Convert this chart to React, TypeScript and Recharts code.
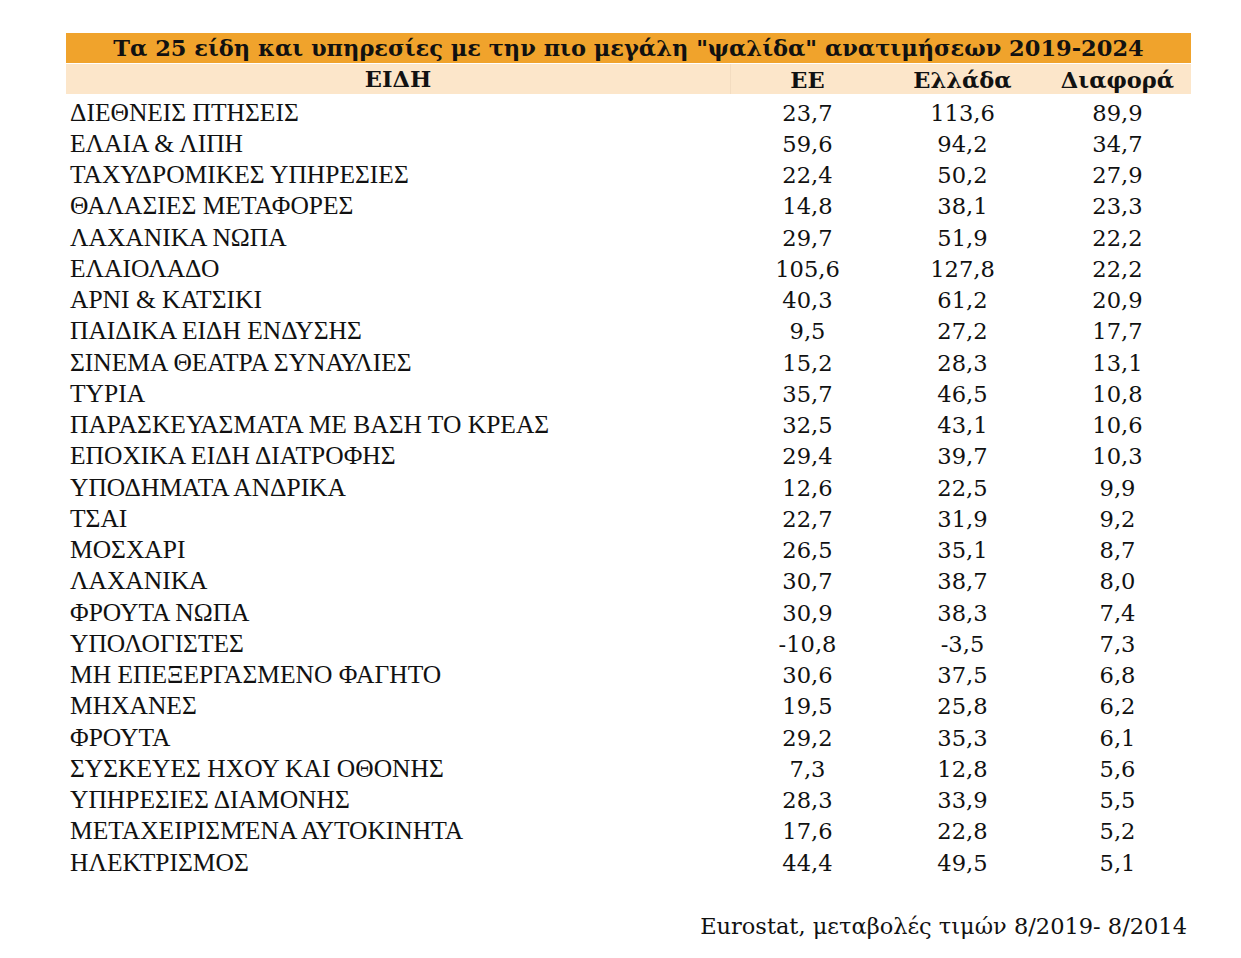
import { ScatterChart, Scatter, XAxis, YAxis } from 'recharts'

const TITLE = 'Τα 25 είδη και υπηρεσίες με την πιο μεγάλη "ψαλίδα" ανατιμήσεων 2019-2024'
const ITEM_HEADER = 'ΕΙΔΗ'
const SOURCE = 'Eurostat, μεταβολές τιμών 8/2019- 8/2014'

const columns = ['ΕΕ', 'Ελλάδα', 'Διαφορά']

const items = [
  'ΔΙΕΘΝΕΙΣ ΠΤΗΣΕΙΣ',
  'ΕΛΑΙΑ & ΛΙΠΗ',
  'ΤΑΧΥΔΡΟΜΙΚΕΣ ΥΠΗΡΕΣΙΕΣ',
  'ΘΑΛΑΣΙΕΣ ΜΕΤΑΦΟΡΕΣ',
  'ΛΑΧΑΝΙΚΑ ΝΩΠΑ',
  'ΕΛΑΙΟΛΑΔΟ',
  'ΑΡΝΙ & ΚΑΤΣΙΚΙ',
  'ΠΑΙΔΙΚΑ ΕΙΔΗ ΕΝΔΥΣΗΣ',
  'ΣΙΝΕΜΑ ΘΕΑΤΡΑ ΣΥΝΑΥΛΙΕΣ',
  'ΤΥΡΙΑ',
  'ΠΑΡΑΣΚΕΥΑΣΜΑΤΑ ΜΕ ΒΑΣΗ ΤΟ ΚΡΕΑΣ',
  'ΕΠΟΧΙΚΑ ΕΙΔΗ ΔΙΑΤΡΟΦΗΣ',
  'ΥΠΟΔΗΜΑΤΑ ΑΝΔΡΙΚΑ',
  'ΤΣΑΙ',
  'ΜΟΣΧΑΡΙ',
  'ΛΑΧΑΝΙΚΑ',
  'ΦΡΟΥΤΑ ΝΩΠΑ',
  'ΥΠΟΛΟΓΙΣΤΕΣ',
  'ΜΗ ΕΠΕΞΕΡΓΑΣΜΕΝΟ ΦΑΓΗΤΟ',
  'ΜΗΧΑΝΕΣ',
  'ΦΡΟΥΤΑ',
  'ΣΥΣΚΕΥΕΣ ΗΧΟΥ ΚΑΙ ΟΘΟΝΗΣ',
  'ΥΠΗΡΕΣΙΕΣ ΔΙΑΜΟΝΗΣ',
  'ΜΕΤΑΧΕΙΡΙΣΜΈΝΑ ΑΥΤΟΚΙΝΗΤΑ',
  'ΗΛΕΚΤΡΙΣΜΟΣ',
]

const eu = [23.7, 59.6, 22.4, 14.8, 29.7, 105.6, 40.3, 9.5, 15.2, 35.7, 32.5, 29.4, 12.6, 22.7, 26.5, 30.7, 30.9, -10.8, 30.6, 19.5, 29.2, 7.3, 28.3, 17.6, 44.4]
const greece = [113.6, 94.2, 50.2, 38.1, 51.9, 127.8, 61.2, 27.2, 28.3, 46.5, 43.1, 39.7, 22.5, 31.9, 35.1, 38.7, 38.3, -3.5, 37.5, 25.8, 35.3, 12.8, 33.9, 22.8, 49.5]
const diff = [89.9, 34.7, 27.9, 23.3, 22.2, 22.2, 20.9, 17.7, 13.1, 10.8, 10.6, 10.3, 9.9, 9.2, 8.7, 8.0, 7.4, 7.3, 6.8, 6.2, 6.1, 5.6, 5.5, 5.2, 5.1]

const cells = items.flatMap((item, i) => [
  { col: columns[0], item, value: eu[i] },
  { col: columns[1], item, value: greece[i] },
  { col: columns[2], item, value: diff[i] },
])

const fmt = (v: number) => v.toFixed(1).replace('.', ',')

const SERIF = '"DejaVu Serif", serif'
const NAME_FONT = '"Liberation Serif", "Times New Roman", serif'

function HeaderTick({ x, y, payload }: any) {
  return (
    <text x={x} y={y - 9} textAnchor="middle" fontFamily={SERIF} fontWeight="bold" fontSize={22.5} fill="#111">
      {payload.value}
    </text>
  )
}

function NameTick({ y, payload }: any) {
  return (
    <text x={70} y={y + 8.5} textAnchor="start" fontFamily={NAME_FONT} fontSize={25.5} fill="#111">
      {payload.value}
    </text>
  )
}

function ValueCell({ cx, cy, payload }: any) {
  return (
    <text x={cx} y={cy + 8.5} textAnchor="middle" fontFamily={SERIF} fontSize={22.6} fill="#111">
      {fmt(payload.value)}
    </text>
  )
}

export default function App() {
  return (
    <div style={{ position: 'absolute', left: 0, top: 0, width: 1241, height: 958, background: '#fff' }}>
      <div style={{ position: 'absolute', left: 66, top: 33, width: 1125, height: 30, background: '#F0A32C', fontFamily: SERIF, fontWeight: 'bold', fontSize: 22.5, lineHeight: '30px', textAlign: 'center', color: '#111', whiteSpace: 'nowrap' }}>
        {TITLE}
      </div>
      <div style={{ position: 'absolute', left: 66, top: 64, width: 1125, height: 30, background: '#FCE6CA' }} />
      <div style={{ position: 'absolute', left: 730, top: 64, width: 1, height: 30, background: '#F3DCC0' }} />
      <div style={{ position: 'absolute', left: 66, top: 64, width: 664, height: 30, fontFamily: SERIF, fontWeight: 'bold', fontSize: 22.5, lineHeight: '30px', textAlign: 'center', color: '#111' }}>
        {ITEM_HEADER}
      </div>
      <div style={{ position: 'absolute', right: 54, top: 911, fontFamily: SERIF, fontSize: 22.5, lineHeight: '30px', color: '#111', whiteSpace: 'nowrap' }}>
        {SOURCE}
      </div>
      <div style={{ position: 'absolute', left: 0, top: 0 }}>
        <ScatterChart width={1241} height={958} margin={{ top: 66.5, right: 46, bottom: 80.25, left: 0 }}>
          <XAxis
            type="category"
            dataKey="col"
            orientation="top"
            allowDuplicatedCategory={false}
            height={30}
            axisLine={false}
            tickLine={false}
            tickSize={0}
            tickMargin={0}
            tick={<HeaderTick />}
            interval={0}
          />
          <YAxis
            type="category"
            dataKey="item"
            allowDuplicatedCategory={false}
            reversed
            width={730}
            axisLine={false}
            tickLine={false}
            tickSize={0}
            tickMargin={0}
            tick={<NameTick />}
            interval={0}
          />
          <Scatter data={cells} shape={<ValueCell />} isAnimationActive={false} />
        </ScatterChart>
      </div>
    </div>
  )
}
